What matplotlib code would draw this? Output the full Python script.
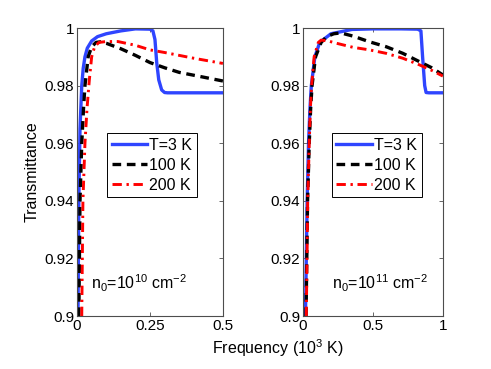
import matplotlib.pyplot as plt
from matplotlib.ticker import FuncFormatter

plt.rcParams['font.family'] = ['Liberation Sans', 'DejaVu Sans']
plt.rcParams['mathtext.default'] = 'regular'
plt.rcParams['font.size'] = 11

# n0 = 1e10 cm^-2 (left panel), frequency in 10^3 K
x3_a = [0.003, 0.006, 0.01, 0.016, 0.021, 0.027, 0.035, 0.05, 0.07, 0.1, 0.15, 0.2,
        0.25, 0.26, 0.267, 0.273, 0.28, 0.29, 0.30, 0.31, 0.4, 0.5]
y3_a = [0.9, 0.94, 0.965, 0.98, 0.986, 0.99, 0.993, 0.9955, 0.997, 0.998, 0.999, 0.9997,
        0.9996, 0.999, 0.996, 0.988, 0.982, 0.9785, 0.9776, 0.9775, 0.9775, 0.9775]
x100_a = [0.006, 0.01, 0.016, 0.022, 0.027, 0.038, 0.05, 0.065, 0.08, 0.1, 0.15, 0.2,
          0.25, 0.3, 0.35, 0.4, 0.45, 0.5]
y100_a = [0.9, 0.94, 0.96, 0.972, 0.98, 0.99, 0.9935, 0.995, 0.9952, 0.9947, 0.9928, 0.9905,
          0.988, 0.9862, 0.9846, 0.9836, 0.9826, 0.9816]
x200_a = [0.016, 0.02, 0.027, 0.034, 0.042, 0.05, 0.06, 0.075, 0.1, 0.14, 0.2, 0.25,
          0.3, 0.35, 0.4, 0.45, 0.5]
y200_a = [0.9, 0.94, 0.96, 0.972, 0.982, 0.99, 0.9935, 0.995, 0.9953, 0.9953, 0.994, 0.9924,
          0.9915, 0.9905, 0.9895, 0.9886, 0.9877]

# n0 = 1e11 cm^-2 (right panel)
x3_b = [0.018, 0.03, 0.04, 0.05, 0.06, 0.085, 0.12, 0.2, 0.35, 0.5, 0.7, 0.82,
        0.843, 0.855, 0.87, 0.88, 0.9, 1.0]
y3_b = [0.9, 0.94, 0.96, 0.972, 0.98, 0.99, 0.995, 0.998, 0.9995, 0.9997, 0.9997, 0.9996,
        0.999, 0.99, 0.98, 0.9776, 0.9775, 0.9775]
x100_b = [0.022, 0.033, 0.045, 0.055, 0.065, 0.09, 0.13, 0.17, 0.22, 0.27, 0.357, 0.476,
          0.595, 0.714, 0.833, 0.92, 1.0]
y100_b = [0.9, 0.94, 0.96, 0.972, 0.98, 0.99, 0.995, 0.997, 0.998, 0.9983, 0.9972, 0.9952,
          0.9935, 0.9912, 0.9883, 0.9862, 0.9837]
x200_b = [0.024, 0.034, 0.045, 0.053, 0.062, 0.08, 0.11, 0.13, 0.18, 0.24, 0.357, 0.476,
          0.595, 0.714, 0.833, 0.92, 1.0]
y200_b = [0.9, 0.94, 0.96, 0.972, 0.98, 0.99, 0.995, 0.9958, 0.9955, 0.9947, 0.9933, 0.9924,
          0.9912, 0.9895, 0.9872, 0.9853, 0.9833]

labels = ['T=3 K', '100 K', '200 K']
yticks = [0.9, 0.92, 0.94, 0.96, 0.98, 1.0]

fig = plt.figure(figsize=(4.91, 3.69), dpi=100)
ax1 = fig.add_axes([0.157, 0.1436, 0.297, 0.7805])
ax2 = fig.add_axes([0.617, 0.1436, 0.285, 0.7805])

panels = [
    (ax1, x3_a, y3_a, x100_a, y100_a, x200_a, y200_a, 0.5, [0, 0.25, 0.5], r'n$_0$=10$^{10}$ cm$^{-2}$', 0.094),
    (ax2, x3_b, y3_b, x100_b, y100_b, x200_b, y200_b, 1.0, [0, 0.5, 1], r'n$_0$=10$^{11}$ cm$^{-2}$', 0.205),
]

for ax, xa, ya, xb, yb, xc, yc, xmax, xt, note, nx in panels:
    ax.plot(xa, ya, color='#2f45ff', lw=2.4, label=labels[0])
    ax.plot(xb, yb, color='black', lw=2.4, dashes=(2.6, 1.7), label=labels[1])
    ax.plot(xc, yc, color='red', lw=2.1, dashes=(3.2, 1.6, 0.8, 1.6), label=labels[2])
    ax.set_xlim(0, xmax)
    ax.set_ylim(0.9, 1.0)
    ax.set_xticks(xt)
    ax.set_yticks(yticks)
    fmt = FuncFormatter(lambda v, p: '%g' % round(v, 3))
    ax.xaxis.set_major_formatter(fmt)
    ax.yaxis.set_major_formatter(fmt)
    ax.tick_params(direction='in', top=True, right=True, length=3, width=0.6,
                   labelsize=11, pad=2, color='0.3')
    for s in ax.spines.values():
        s.set_linewidth(0.8)
        s.set_color('0.3')
    ax.text(nx * xmax, 0.9115, note, fontsize=11.5, va='center')
    leg = ax.legend(loc='upper left', bbox_to_anchor=(0.205, 0.635), borderaxespad=0,
                    fancybox=False, edgecolor='black', framealpha=1, handlelength=2.2,
                    handletextpad=0.15, borderpad=0.3, labelspacing=0.3, fontsize=11.5)
    leg.get_frame().set_linewidth(0.7)

ax1.set_ylabel('Transmittance', fontsize=11.5, labelpad=4)
fig.text(0.565, 0.04, r'Frequency (10$^3$ K)', ha='center', fontsize=11.5)

fig.savefig('out.png', dpi=100)
